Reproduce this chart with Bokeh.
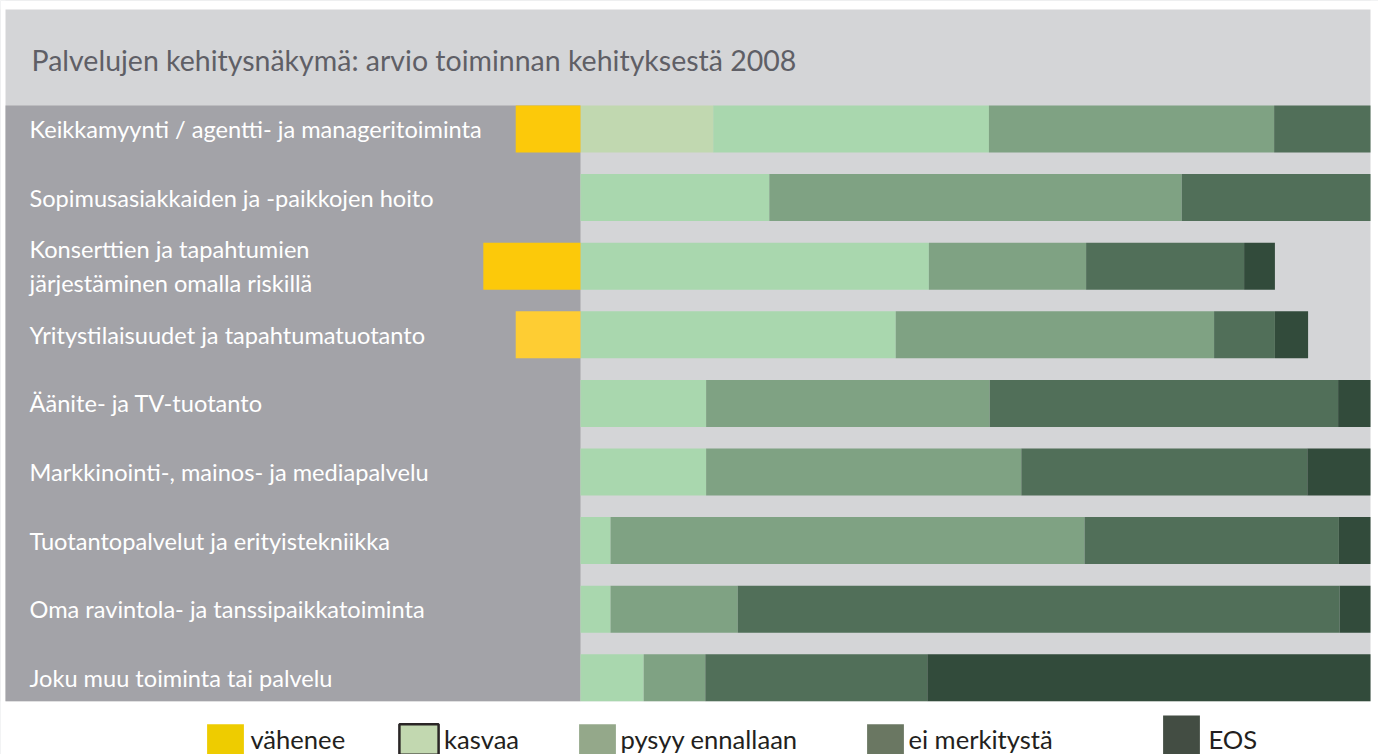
from bokeh.plotting import figure
from bokeh.models import (Range1d, BoxAnnotation, Label, LabelSet, ColumnDataSource,
                          Legend, LegendItem)
from bokeh.core.properties import value
from bokeh.embed import file_html
from bokeh.resources import INLINE

# ---------------- data ----------------
categories = [
    "Keikkamyynti / agentti- ja manageritoiminta",
    "Sopimusasiakkaiden ja -paikkojen hoito",
    "Konserttien ja tapahtumien\njärjestäminen omalla riskillä",
    "Yritystilaisuudet ja tapahtumatuotanto",
    "Äänite- ja TV-tuotanto",
    "Markkinointi-, mainos- ja mediapalvelu",
    "Tuotantopalvelut ja erityistekniikka",
    "Oma ravintola- ja tanssipaikkatoiminta",
    "Joku muu toiminta tai palvelu",
]
vahenee       = [8.2, 0.0, 12.3, 8.2, 0.0, 0.0, 0.0, 0.0, 0.0]
kasvaa_lisa   = [16.8, 0.0, 0.0, 0.0, 0.0, 0.0, 0.0, 0.0, 0.0]
kasvaa        = [34.9, 23.9, 44.1, 39.9, 15.9, 15.9, 3.8, 3.8, 8.0]
pysyy         = [36.1, 52.2, 19.9, 40.3, 35.9, 39.9, 60.0, 16.1, 7.8]
ei_merkitysta = [12.2, 23.9, 20.0, 7.7, 44.1, 36.2, 32.2, 76.2, 28.1]
eos           = [0.0, 0.0, 3.9, 4.2, 4.1, 8.0, 4.0, 3.9, 56.1]
legend_labels = ["vähenee", "kasvaa", "pysyy ennallaan", "ei merkitystä", "EOS"]
title_text = "Palvelujen kehitysnäkymä: arvio toiminnan kehityksestä 2008"

# ---------------- styles / layout ----------------
vahenee_colors = ["#fcc90a", "#fcc90a", "#fcc90a", "#fecd33", "#fcc90a",
                  "#fcc90a", "#fcc90a", "#fcc90a", "#fcc90a"]
stack_colors = ["#c1d8b0", "#a9d7ae", "#7fa283", "#516f59", "#324b3b"]
legend_colors = ["#eecc00", "#c2d8b0", "#94a88a", "#6a7762", "#434d43"]
# legend glyph boxes (Bokeh insets area glyphs by 10 % on each side)
legend_x = [202.4, 394.1, 574.4, 862.4, 1158.4]
legend_y = [-4, -4, -4, -4, -15]
legend_gw = [46, 49, 46, 46, 46]
legend_gh = [38, 38, 38, 38, 60]
legend_so = [2, 1, -3, -2, 4]
FONT = "Lato"
BAR_H = 0.685
W, H = 1378, 754
ZERO_PX, PX_PER = 580.0, 7.9        # x pixel of 0 %, pixels per %
ROW0_PX, ROW_STEP = 128.5, 68.6      # y pixel of first row centre, row pitch

src = ColumnDataSource(dict(
    y=list(range(len(categories))),
    label=categories,
    neg=[-v for v in vahenee],
    vcol=vahenee_colors,
    kasvaa_lisa=kasvaa_lisa,
    kasvaa=kasvaa,
    pysyy=pysyy,
    ei=ei_merkitysta,
    eos=eos,
))

def ypx(px):
    return (px - ROW0_PX) / ROW_STEP

def xpx(px):
    return (px - ZERO_PX) / PX_PER

p = figure(width=W, height=H, output_backend="svg", toolbar_location=None,
           x_range=Range1d(xpx(0), xpx(W)), y_range=Range1d(ypx(H), ypx(0)),
           x_axis_type=None, y_axis_type=None,
           min_border_left=0, min_border_right=0, min_border_top=0, min_border_bottom=0)
p.background_fill_color = "#d4d5d7"
p.border_fill_color = "white"
p.outline_line_color = None
p.grid.visible = False

# white page margins around the grey panel
for kw in (dict(bottom=ypx(9)), dict(top=8 + BAR_H / 2), dict(left=100),
           dict(right=xpx(5))):
    p.add_layout(BoxAnnotation(fill_color="white", fill_alpha=1, line_color=None,
                               level="underlay", **kw))

# left label panel
p.add_layout(BoxAnnotation(left=xpx(5), right=0, top=-BAR_H / 2, bottom=8 + BAR_H / 2,
                           fill_color="#a3a3a8", fill_alpha=1, line_color=None,
                           level="underlay"))

# bars
p.hbar_stack(["kasvaa_lisa", "kasvaa", "pysyy", "ei", "eos"], y="y", height=BAR_H,
             fill_color=stack_colors, line_color=None, source=src)
p.hbar(y="y", left="neg", right=0, height=BAR_H, fill_color="vcol",
       line_color=None, source=src)

# category labels
p.add_layout(LabelSet(x=29, x_units="screen", y="y", text="label", source=src,
                      text_color="white", text_font=value(FONT), text_font_size="23.6px",
                      text_baseline="middle", text_line_height=1.2))

# header title
p.add_layout(Label(x=31, x_units="screen", y=ypx(59.5), text=title_text,
                   text_color="#5f5f66", text_font=FONT, text_font_size="28.5px",
                   text_baseline="alphabetic"))

# legend (one per entry, placed below the bars)
nan = float("nan")
for lab, col, lx, ly, gw, gh, so in zip(legend_labels, legend_colors, legend_x,
                                        legend_y, legend_gw, legend_gh, legend_so):
    lc = "#2a2626" if lab == "kasvaa" else col
    lw = 2.5 if lab == "kasvaa" else 0
    r = p.quad(left=[nan], right=[nan], top=[nan], bottom=[nan], fill_color=col,
               line_color=lc, line_width=lw)
    lg = Legend(items=[LegendItem(label=lab, renderers=[r])], location=(lx, ly),
                orientation="horizontal", glyph_width=gw, glyph_height=gh,
                label_height=gh, label_standoff=so, padding=0, margin=0, spacing=0,
                border_line_color=None, background_fill_alpha=0,
                label_text_font=FONT, label_text_font_size="25.6px",
                label_text_color="#231f20")
    p.add_layout(lg)

open("out.html", "w").write(file_html(p, INLINE))
